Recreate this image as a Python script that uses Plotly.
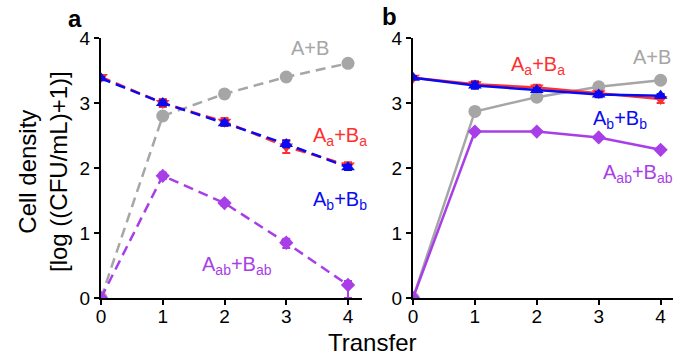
import plotly.graph_objects as go

transfers = [0, 1, 2, 3, 4]

# Panel a (dashed)
a_AB = [0.0, 2.80, 3.14, 3.40, 3.61]
a_AaBa = [3.40, 3.00, 2.71, 2.33, 2.04]
a_AaBa_err = [0.02, 0.06, 0.06, 0.10, 0.05]
a_AbBb = [3.38, 3.00, 2.69, 2.37, 2.01]
a_AbBb_err = [0.02, 0.04, 0.04, 0.05, 0.04]
a_AabBab = [0.0, 1.88, 1.46, 0.85, 0.20]
a_AabBab_err_up = [0.0, 0.05, 0.04, 0.06, 0.06]
a_AabBab_err_down = [0.0, 0.05, 0.04, 0.08, 0.20]

# Panel b (solid)
b_AB = [0.0, 2.87, 3.09, 3.25, 3.35]
b_AaBa = [3.39, 3.29, 3.24, 3.15, 3.06]
b_AaBa_err = [0.02, 0.05, 0.04, 0.04, 0.06]
b_AbBb = [3.39, 3.27, 3.20, 3.13, 3.11]
b_AbBb_err = [0.02, 0.05, 0.03, 0.04, 0.03]
b_AabBab = [0.0, 2.56, 2.56, 2.47, 2.28]

GRAY = "#a6a6a6"
RED = "#ff3030"
BLUE = "#0a0af0"
PURPLE = "#a83ee8"
FONT = "Liberation Sans, Arial, sans-serif"

fig = go.Figure()

def add(x, y, err, color, symbol, size, dash, xa, ya, err_minus=None):
    kw = {}
    if err is not None:
        ed = dict(type="data", array=err, color=color, thickness=2, width=4)
        if err_minus is not None:
            ed["symmetric"] = False
            ed["arrayminus"] = err_minus
        kw["error_y"] = ed
    fig.add_trace(go.Scatter(
        x=x, y=y, mode="lines+markers", xaxis=xa, yaxis=ya,
        line=dict(color=color, width=2.5, dash=dash),
        marker=dict(color=color, symbol=symbol, size=size),
        showlegend=False, **kw))

dash = "10px,6px"
add(transfers, a_AB, None, GRAY, "circle", 13, dash, "x", "y")
add(transfers, a_AabBab, a_AabBab_err_up, PURPLE, "diamond", 11, dash, "x", "y",
    err_minus=a_AabBab_err_down)
add(transfers, a_AaBa, a_AaBa_err, RED, "triangle-down", 12, dash, "x", "y")
add(transfers, a_AbBb, a_AbBb_err, BLUE, "triangle-up", 12, dash, "x", "y")

add(transfers, b_AB, None, GRAY, "circle", 13, "solid", "x2", "y2")
add(transfers, b_AabBab, None, PURPLE, "diamond", 11, "solid", "x2", "y2")
add(transfers, b_AaBa, b_AaBa_err, RED, "triangle-down", 12, "solid", "x2", "y2")
add(transfers, b_AbBb, b_AbBb_err, BLUE, "triangle-up", 12, "solid", "x2", "y2")

W, H = 676, 358
ydom = [(H - 298) / H, (H - 38) / H]
axis_common = dict(showline=True, linecolor="black", linewidth=2, ticks="outside",
                   ticklen=5, tickwidth=2, tickcolor="black", showgrid=False,
                   zeroline=False, automargin=False,
                   tickfont=dict(family=FONT, size=19, color="black"))

fig.update_layout(
    template="none",
    width=W, height=H, autosize=False,
    margin=dict(l=0, r=0, t=0, b=0, pad=0),
    paper_bgcolor="white", plot_bgcolor="white",
    xaxis=dict(domain=[101 / W, 362 / W], range=[0, 261 / 61.75], tickvals=transfers,
               anchor="y", ticklabelstandoff=-5, **axis_common),
    yaxis=dict(domain=ydom, range=[0, 4], tickvals=[0, 1, 2, 3, 4], anchor="x", **axis_common),
    xaxis2=dict(domain=[413 / W, 673 / W], range=[0, 260 / 61.9], tickvals=transfers,
                anchor="y2", ticklabelstandoff=-5, **axis_common),
    yaxis2=dict(domain=ydom, range=[0, 4], tickvals=[0, 1, 2, 3, 4], anchor="x2", **axis_common),
)

def label(text, px, py, color, size=20):
    fig.add_annotation(text=text, x=px / W, y=1 - py / H, xref="paper", yref="paper",
                       showarrow=False, xanchor="center", yanchor="middle",
                       font=dict(family=FONT, size=size, color=color))

# series labels
label("A+B", 310, 48, GRAY)
label("A<sub>a</sub>+B<sub>a</sub>", 340, 136, RED)
label("A<sub>b</sub>+B<sub>b</sub>", 340, 200, BLUE)
label("A<sub>ab</sub>+B<sub>ab</sub>", 237, 265, PURPLE)

label("A<sub>a</sub>+B<sub>a</sub>", 538, 66, RED)
label("A+B", 652, 57, GRAY)
label("A<sub>b</sub>+B<sub>b</sub>", 620, 120, BLUE)
label("A<sub>ab</sub>+B<sub>ab</sub>", 638, 173, PURPLE)

# panel letters
label("<b>a</b>", 75, 18, "black", size=24)
label("<b>b</b>", 390, 17, "black", size=24)

# axis titles
label("Transfer", 372, 342, "black", size=24)
fig.add_annotation(text="Cell density<br>[log ((CFU/mL)+1)]", x=43 / W, y=1 - 172 / H,
                   xref="paper", yref="paper", showarrow=False, textangle=-90,
                   xanchor="center", yanchor="middle",
                   font=dict(family=FONT, size=24, color="black"))

fig.write_html("out.html")
